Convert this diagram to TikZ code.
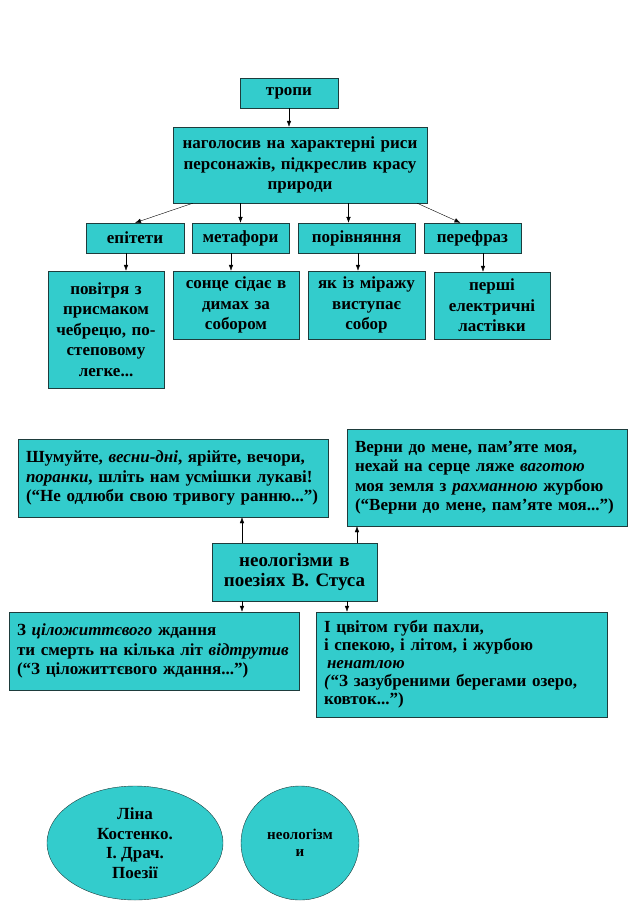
\documentclass[tikz,border=0pt]{standalone}
\usepackage{fontspec}
\setmainfont{Liberation Serif}
\usepackage{tikz}
\usetikzlibrary{arrows.meta,shapes.geometric}
\usepackage{xcolor}
\definecolor{biruza}{HTML}{33CCCC}
\definecolor{obvid}{HTML}{1E3C3C}
\tikzset{
  blok/.style={draw=obvid, fill=biruza, font=\fontsize{17}{20.5}\selectfont\bfseries, align=center, inner sep=2pt},
  tekst/.style={blok, align=left, inner xsep=8pt, font=\fontsize{17}{19.5}\selectfont\bfseries},
  oval/.style={ellipse, draw=obvid, fill=biruza, font=\fontsize{17}{19.5}\selectfont\bfseries, align=center, inner sep=0pt},
  strilka/.style={-{Latex[length=6pt,width=4.5pt]}, black}
}

\begin{document}
\begin{tikzpicture}[x=1pt, y=-1pt]
  \useasboundingbox (0,0) rectangle (638,903);
  % === ВЕРХНЯ СХЕМА: тропи ===
  \node[blok, minimum width=98, minimum height=30] (tropy) at (289,93) {тропи};
  \node[blok, minimum width=254, minimum height=76, text width=250] (nagolos) at (300,165)
    {наголосив на характерні риси\\ персонажів, підкреслив красу\\ природи};
  \draw[strilka] (tropy.south) -- (tropy.south |- nagolos.north);
  % чотири види тропів
  \node[blok, minimum width=98, minimum height=30] (epitety) at (135,238) {епітети};
  \node[blok, minimum width=97, minimum height=30] (metafory) at (240.5,238) {метафори};
  \node[blok, minimum width=117, minimum height=30] (porivn) at (356.5,238) {порівняння};
  \node[blok, minimum width=97, minimum height=30] (perefraz) at (472.5,238) {перефраз};
  \draw[strilka] ([xshift=20]nagolos.south west) -- (epitety.north);
  \draw[strilka] (metafory.north |- nagolos.south) -- (metafory.north);
  \coordinate (pv) at ([xshift=-8]porivn.north);
  \draw[strilka] (pv |- nagolos.south) -- (pv);
  \draw[strilka] ([xshift=-10]nagolos.south east) -- ([xshift=-12]perefraz.north);
  % приклади
  \node[blok, minimum width=116, minimum height=117, text width=112] (povitria) at (106,329.5)
    {повітря з\\ присмаком\\ чебрецю, по-\\ степовому\\ легке...};
  \node[blok, minimum width=126, minimum height=68, text width=122] (sontse) at (236,305)
    {сонце сідає в\\ димах за\\ собором};
  \node[blok, minimum width=117, minimum height=68, text width=113] (miraz) at (366.5,305)
    {як із міражу\\ виступає\\ собор};
  \node[blok, minimum width=116, minimum height=67, text width=112] (pershi) at (492,305.5)
    {перші\\ електричні\\ ластівки};
  \foreach \vid/\pr/\dx in {epitety/povitria/-9, metafory/sontse/-9.5, porivn/miraz/1.5, perefraz/pershi/10.5}{
    \coordinate (c) at ([xshift=\dx]\vid.south);
    \draw[strilka] (c) -- (c |- \pr.north);
  }
  % === НИЖНЯ СХЕМА: неологізми В. Стуса ===
  \node[blok, minimum width=165, minimum height=58, text width=161, font=\fontsize{19}{20}\selectfont\bfseries] (neol) at (294.5,572)
    {неологізми в\\ поезіях В. Стуса};
  \node[tekst, minimum width=310, minimum height=78, text width=294] (shumuite) at (173,478)
    {Шумуйте, \textit{весни-дні}, ярійте, вечори,\\
     \textit{поранки}, шліть нам усмішки лукаві!\\
     (“Не одлюби свою тривогу ранню...”)};
  \node[tekst, minimum width=280, minimum height=97, text width=264] (verny) at (487,477.5)
    {Верни до мене, пам’яте моя,\\
     нехай на серце ляже \textit{ваготою}\\
     моя земля з \textit{рахманною} журбою\\
     (“Верни до мене, пам’яте моя...”)};
  \node[tekst, minimum width=290, minimum height=78, text width=274] (tsilo) at (154,651)
    {З \textit{цiложиттєвого} ждання\\
     ти смерть на кілька літ \textit{відтрутив}\\
     (“З ціложиттєвого ждання...”)};
  \node[tekst, minimum width=291, minimum height=105, text width=275, font=\fontsize{17}{18}\selectfont\bfseries] (tsvitom) at (461.5,664.5)
    {І цвітом губи пахли,\\
     і спекою, і літом, і журбою\\
     \hspace*{3pt}\textit{ненатлою}\\
     \textit{(}“З зазубреними берегами озеро,\\
     ковток...”)};
  \coordinate (n1) at ([xshift=-52.5]neol.north);
  \coordinate (n2) at ([xshift=62.5]neol.north);
  \coordinate (n3) at ([xshift=-52.5]neol.south);
  \coordinate (n4) at ([xshift=52.5]neol.south);
  \draw[strilka] (n1) -- (n1 |- shumuite.south);
  \draw[strilka] (n2) -- (n2 |- verny.south);
  \draw[strilka] (n3) -- (n3 |- tsilo.north);
  \draw[strilka] (n4) -- (n4 |- tsvitom.north);
  % === ОВАЛИ ===
  \node[oval, minimum width=176, minimum height=114] (lina) at (135,843)
    {Ліна\\ Костенко.\\ І. Драч.\\ Поезії};
  \node[oval, minimum width=118, minimum height=114, font=\fontsize{15}{17}\selectfont\bfseries] (neolkolo) at (300,843)
    {неологізм\\ и};
\end{tikzpicture}
\end{document}
